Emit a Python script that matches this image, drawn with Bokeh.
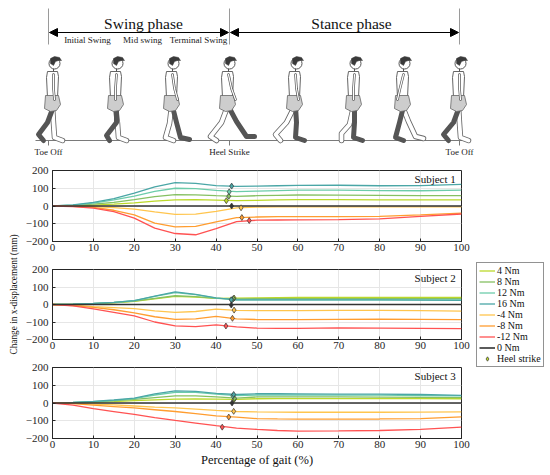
import math
from bokeh.plotting import figure
from bokeh.models import (Range1d, Legend, LegendItem, Label, Title, FixedTicker,
                          ColumnDataSource, Arrow, NormalHead, Spacer)
from bokeh.layouts import column, row
from bokeh.core.properties import value
from bokeh.embed import file_html
from bokeh.resources import INLINE

FONT = "Liberation Serif"

# ---------------- data ----------------
gait_pct = [0, 5, 10, 15, 20, 25, 30, 35, 40, 45, 50, 55, 60, 70, 80, 90, 100]
series_labels = ["4 Nm", "8 Nm", "12 Nm", "16 Nm", "-4 Nm", "-8 Nm", "-12 Nm", "0 Nm"]
series_colors = ["#bcd82a", "#86c062", "#6cccaa", "#4aa6a6", "#ffc54e", "#ff9d30", "#ff5252", "#333333"]

# Subject 1
s1_4nm = [0, 1, 5, 10, 18, 28, 35, 36, 33, 30, 32, 34, 36, 36, 35, 34, 35]
s1_8nm = [0, 3, 10, 21, 36, 53, 64, 63, 58, 54, 58, 60, 62, 61, 60, 59, 58]
s1_12nm = [0, 5, 16, 34, 56, 82, 100, 98, 88, 81, 84, 87, 89, 89, 87, 86, 90]
s1_16nm = [0, 6, 20, 42, 72, 108, 132, 128, 115, 110, 112, 114, 116, 117, 114, 115, 122]
s1_m4nm = [0, -1, -3, -9, -18, -33, -47, -46, -30, -10, -6, -5, -5, -5, -5, -5, -5]
s1_m8nm = [0, -2, -8, -24, -50, -96, -118, -115, -90, -66, -62, -60, -60, -60, -58, -50, -40]
s1_m12nm = [0, -3, -12, -32, -68, -125, -155, -162, -128, -88, -80, -79, -78, -77, -72, -58, -45]
s1_0nm = [0, 0, 0, 0, 0, 0, 0, 0, 0, 0, 0, 0, 0, 0, 0, 0, 0]
s1_heel_x = [42.5, 43.1, 43.2, 43.8, 46.1, 46.3, 48.1, 43.8]
s1_heel_y = [30, 55, 80, 112, -10, -65, -82, 0]

# Subject 2
s2_4nm = [0, 1, 4, 10, 18, 32, 46, 42, 35, 37, 38, 39, 40, 40, 40, 40, 40]
s2_8nm = [0, 2, 5, 11, 20, 35, 50, 45, 35, 32, 33, 34, 34, 34, 34, 34, 34]
s2_12nm = [0, 2, 6, 12, 22, 46, 68, 56, 36, 26, 26, 27, 27, 27, 27, 26, 26]
s2_16nm = [0, 2, 6, 12, 22, 48, 72, 58, 38, 26, 26, 26, 26, 26, 26, 25, 24]
s2_m4nm = [0, -4, -12, -18, -24, -36, -45, -40, -27, -33, -35, -35, -35, -34, -34, -35, -38]
s2_m8nm = [0, -6, -16, -30, -48, -70, -85, -82, -68, -82, -86, -86, -86, -85, -84, -85, -86]
s2_m12nm = [0, -8, -25, -45, -65, -100, -122, -126, -116, -128, -135, -136, -136, -134, -135, -136, -138]
s2_0nm = [0, 0, 0, 0, 0, 0, 0, 0, 0, 0, 0, 0, 0, 0, 0, 0, 0]
s2_heel_x = [44.4, 44.2, 43.9, 43.7, 44.4, 44.0, 42.4, 43.7]
s2_heel_y = [37, 33, 26, 27, -32, -79, -123, -3]

# Subject 3
s3_4nm = [0, 1, 4, 8, 13, 18, 22, 23, 22, 20, 24, 25, 25, 25, 25, 25, 24]
s3_8nm = [0, 2, 6, 12, 20, 30, 40, 40, 35, 28, 34, 35, 35, 34, 33, 32, 30]
s3_12nm = [0, 3, 8, 15, 25, 45, 60, 60, 50, 42, 45, 45, 45, 44, 44, 42, 40]
s3_16nm = [0, 3, 9, 17, 28, 52, 68, 66, 54, 48, 52, 52, 51, 50, 50, 48, 43]
s3_m4nm = [0, -2, -6, -11, -17, -23, -28, -34, -42, -48, -50, -51, -52, -52, -52, -51, -50]
s3_m8nm = [0, -4, -12, -20, -28, -38, -48, -60, -72, -80, -88, -90, -91, -91, -90, -88, -78]
s3_m12nm = [0, -12, -32, -48, -64, -82, -98, -113, -128, -142, -149, -155, -158, -157, -155, -149, -136]
s3_0nm = [0, 0, 0, 0, 0, 0, 0, 0, 0, 0, 0, 0, 0, 0, 0, 0, 0]
s3_heel_x = [44.4, 44.5, 44.1, 44.3, 44.3, 43.1, 41.5, 43.9]
s3_heel_y = [20, 26, 40, 48, -47, -79, -136, 0]

x_ticks = [0, 10, 20, 30, 40, 50, 60, 70, 80, 90, 100]
y_ticks = [-200, -100, 0, 100, 200]

AX = "#262626"


def subject_plot(name, series, heel_x, heel_y, height, top, bottom, with_xlabel=False):
    p = figure(width=448, height=height, x_range=Range1d(0, 100), y_range=Range1d(-200, 200),
               output_backend="svg", toolbar_location=None,
               min_border_left=27, min_border_right=9, min_border_top=top, min_border_bottom=bottom)
    p.background_fill_color = "white"
    p.border_fill_color = "white"
    p.outline_line_color = AX
    p.outline_line_width = 1
    for ax in (p.xaxis[0], p.yaxis[0]):
        ax.major_tick_in = 3
        ax.major_tick_out = 0
        ax.minor_tick_line_color = None
        ax.axis_line_color = AX
        ax.major_tick_line_color = AX
        ax.major_label_text_font = FONT
        ax.major_label_text_font_size = "11px"
        ax.major_label_text_color = AX
    p.xaxis.ticker = FixedTicker(ticks=x_ticks)
    p.yaxis.ticker = FixedTicker(ticks=y_ticks)
    p.xaxis.major_label_standoff = 2
    p.yaxis.major_label_standoff = 4
    p.xgrid.grid_line_color = "#e6e6e6"
    p.ygrid.grid_line_color = "#e6e6e6"

    for vals, col in zip(series, series_colors):
        lw = 1.6 if col == "#333333" else 1.3
        p.line(gait_pct, vals, line_color=col, line_width=lw)
    src = ColumnDataSource(dict(x=heel_x, y=heel_y, c=series_colors))
    p.scatter("x", "y", source=src, marker="diamond", size=6, fill_color="c",
              line_color="#333333", line_width=0.7)

    p.add_layout(Label(x=98.6, y=188, text=name, text_align="right", text_baseline="top",
                       text_font=FONT, text_font_size="11px", text_color="#111111"))

    if with_xlabel:
        p.add_layout(Title(text="Percentage of gait (%)", align="center", offset=18,
                           text_font=FONT, text_font_size="12.5px", text_font_style="normal",
                           text_color="#111111", standoff=0), "below")
    return p


s1_series = [s1_4nm, s1_8nm, s1_12nm, s1_16nm, s1_m4nm, s1_m8nm, s1_m12nm, s1_0nm]
s2_series = [s2_4nm, s2_8nm, s2_12nm, s2_16nm, s2_m4nm, s2_m8nm, s2_m12nm, s2_0nm]
s3_series = [s3_4nm, s3_8nm, s3_12nm, s3_16nm, s3_m4nm, s3_m8nm, s3_m12nm, s3_0nm]

f1 = subject_plot("Subject 1", s1_series, s1_heel_x, s1_heel_y, 100, 8, 21)
f2 = subject_plot("Subject 2", s2_series, s2_heel_x, s2_heel_y, 98, 7, 21)
f3 = subject_plot("Subject 3", s3_series, s3_heel_x, s3_heel_y, 107, 7, 29, with_xlabel=True)

# ---- legend panel: same series, drawn off-range so only the legend shows ----
legfig = figure(width=80, height=110, x_range=Range1d(1000, 1001), y_range=Range1d(1000, 1001),
                output_backend="svg", toolbar_location=None, min_border=0)
legfig.axis.visible = False
legfig.grid.visible = False
legfig.outline_line_color = None
items = []
for lab_txt, col, vals in zip(series_labels, series_colors, s2_series):
    r = legfig.line(gait_pct, vals, line_color=col, line_width=1.6 if col == "#333333" else 1.3)
    items.append(LegendItem(label=lab_txt, renderers=[r]))
hsrc = ColumnDataSource(dict(x=s2_heel_x, y=s2_heel_y, c=series_colors))
hs = legfig.scatter("x", "y", source=hsrc, marker="diamond", size=5, fill_color="c",
                    line_color="#333333", line_width=0.7)
items.append(LegendItem(label="Heel strike", renderers=[hs], index=0))
leg = Legend(items=items, location=(6, 1), orientation="vertical")
leg.label_text_font = FONT
leg.label_text_font_size = "10px"
leg.label_text_color = "#111111"
leg.glyph_width = 16
leg.glyph_height = 11
leg.label_height = 11
leg.label_standoff = 2
leg.spacing = 0
leg.padding = 2
leg.margin = 0
leg.border_line_color = AX
leg.border_line_width = 0.8
leg.background_fill_alpha = 1
legfig.add_layout(leg, "center")

# ---- shared y-label strip ----
lab = figure(width=22, height=305, x_range=Range1d(0, 22), y_range=Range1d(467, 162),
             output_backend="svg", toolbar_location=None, min_border=0)
lab.axis.visible = False
lab.grid.visible = False
lab.outline_line_color = None
lab.text(x=[13], y=[294], text=["Change in x-displacement (mm)"], angle=math.pi / 2,
         text_align="center", text_baseline="middle", text_font=value(FONT),
         text_font_size="9.3px", text_color="#111111")

# ---- gait cycle illustration ----
top = figure(width=550, height=162, x_range=Range1d(0, 550), y_range=Range1d(162, 0),
             output_backend="svg", toolbar_location=None, min_border=0)
top.axis.visible = False
top.grid.visible = False
top.outline_line_color = None

top.segment(x0=[48, 229, 459], y0=[8, 8, 8], x1=[48, 229, 459], y1=[44, 44, 44],
            line_color="#9a9a9a", line_width=1)
for xs, xe in ((48, 229), (229, 459)):
    top.add_layout(Arrow(x_start=xs + 1, y_start=32, x_end=xe - 1, y_end=32, line_width=1.2,
                         line_color="black",
                         start=NormalHead(size=8, fill_color="black", line_color="black"),
                         end=NormalHead(size=8, fill_color="black", line_color="black")))
top.text(x=[143, 351], y=[23, 23], text=["Swing phase", "Stance phase"], text_align="center",
         text_baseline="middle", text_font=value(FONT), text_font_size="15.5px", text_color="#111111")
top.text(x=[87, 142, 198], y=[39.5, 39.5, 39.5], text=["Initial Swing", "Mid swing", "Terminal Swing"],
         text_align="center", text_baseline="middle", text_font=value(FONT), text_font_size="9px",
         text_color="#222222")

top.line([35, 467], [140, 140], line_color="#7a7a7a", line_width=1)
top.segment(x0=[48, 229, 459], y0=[140, 140, 140], x1=[48, 229, 459], y1=[145, 145, 145],
            line_color="#7a7a7a", line_width=1)
top.text(x=[48, 229, 459], y=[151, 151, 151], text=["Toe Off", "Heel Strike", "Toe Off"],
         text_align="center", text_baseline="middle", text_font=value(FONT), text_font_size="9px",
         text_color="#222222")

# walking people (decorative): cx, dark leg (knee, ankle, toe), light leg (knee, ankle, toe), arm swing
poses = [
    (52, [(-5, 122), (-14, 134), (-9, 140)], [(1, 123), (2, 137), (10, 140)], 2),
    (115, [(1, 122), (-9, 135), (-6, 140)], [(2, 123), (3, 137), (11, 140)], 0),
    (171, [(5, 122), (9, 137), (18, 139)], [(-2, 123), (-6, 137), (2, 140)], 6),
    (227, [(9, 121), (19, 136), (27, 136)], [(-6, 122), (-17, 136), (-11, 140)], 8),
    (294, [(2, 122), (1, 137), (10, 140)], [(-8, 122), (-19, 134), (-14, 140)], 4),
    (353, [(1, 122), (0, 137), (9, 140)], [(-4, 124), (-12, 133), (-12, 140)], 0),
    (402, [(-3, 122), (-7, 137), (1, 140)], [(6, 121), (13, 136), (21, 138)], -5),
    (458, [(-5, 122), (-15, 134), (-10, 140)], [(1, 123), (2, 137), (10, 140)], 2),
]
HIP_Y = 106
for cx, dark, light, sw in poses:
    lx = [cx] + [cx + d[0] for d in light]
    ly = [HIP_Y] + [d[1] for d in light]
    top.line(lx, ly, line_color="#6a6a6a", line_width=5.5, line_cap="round", line_join="round")
    top.line(lx, ly, line_color="white", line_width=3.8, line_cap="round", line_join="round")
    dx = [cx + 1] + [cx + d[0] for d in dark]
    dy = [HIP_Y] + [d[1] for d in dark]
    top.line(dx, dy, line_color="#555555", line_width=5, line_cap="round", line_join="round")
    tx = [-5, 5, 6, 5, -5, -6]
    ty = [71, 71, 76, 97, 97, 77]
    top.patch([cx + v for v in tx], ty, fill_color="white", line_color="#555555", line_width=0.9)
    sx = [-7, 6, 8, 4, -2, -8]
    sy = [95, 95, 104, 110, 111, 108]
    top.patch([cx + v for v in sx], sy, fill_color="#cdcdcd", line_color="#666666", line_width=0.8)
    top.line([cx + 1, cx + sw * 0.5, cx + sw], [74, 88, 99], line_color="#555555", line_width=2.6,
             line_cap="round", line_join="round")
    top.line([cx + 1, cx + sw * 0.5, cx + sw], [74, 88, 99], line_color="white", line_width=1.2,
             line_cap="round", line_join="round")
    top.line([cx + 1, cx + 1], [67, 71], line_color="#555555", line_width=1)
    top.circle(x=[cx + 2], y=[63], radius=5.5, fill_color="white", line_color="#444444", line_width=0.9)
    hx = [-4, -4, 0, 5, 7, 4, 1, -1]
    hy = [63, 58, 56, 57, 60, 60, 61, 65]
    top.patch([cx + 2 + v for v in hx], hy, fill_color="#3a3a3a", line_color="#3a3a3a", line_width=0.5)

legcol = column(Spacer(width=80, height=96), legfig, spacing=0)
plots = column(f1, f2, f3, spacing=0)
layout = column(top, row(lab, plots, legcol, spacing=0), spacing=0)

with open("out.html", "w") as fh:
    fh.write(file_html(layout, INLINE))
